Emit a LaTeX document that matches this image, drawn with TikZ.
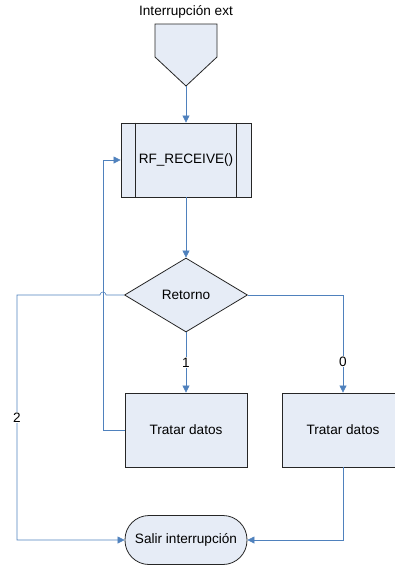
\documentclass[tikz,border=0pt]{standalone}
\usepackage{fontspec}
\setmainfont{Liberation Sans}
\usetikzlibrary{shapes.geometric,arrows.meta,positioning}

\definecolor{linea}{RGB}{79,129,189}
\definecolor{relleno}{RGB}{230,236,246}

\tikzstyle{caja}=[rectangle,draw=black!85,fill=relleno,thick,minimum width=122pt,minimum height=74pt,inner sep=0pt]
\tikzstyle{decision}=[diamond,draw=black!85,fill=relleno,thick,minimum width=123pt,minimum height=74pt,inner sep=0pt]
\tikzstyle{fin}=[rectangle,rounded corners=24pt,draw=black!85,fill=relleno,thick,minimum width=122pt,minimum height=49pt,inner sep=0pt]
\tikzstyle{linea}=[draw=linea,semithick]
\tikzstyle{texto}=[fill=white,inner sep=1pt]

\begin{document}
\begin{tikzpicture}[node distance=135pt,>={Triangle[length=7pt,width=7pt]},font=\fontsize{13.6}{16}\selectfont]
  \useasboundingbox (0,0) rectangle (395pt,-566pt);

  \node [texto] (titulo) at (186pt,-12pt) {Interrupción ext};
  \coordinate (ini) at (186pt,-86pt);
  \draw [draw=black!85,fill=relleno,thick] ([xshift=-31pt,yshift=62pt]ini) -- ([xshift=31pt,yshift=62pt]ini)
    -- ([xshift=31pt,yshift=29pt]ini) -- (ini) -- ([xshift=-31pt,yshift=29pt]ini) -- cycle;

  \node [caja,minimum width=130pt] (rf) at (186pt,-160pt) {RF\_RECEIVE()};
  \draw [draw=black!85,thick] ([xshift=15pt]rf.north west) -- ([xshift=15pt]rf.south west);
  \draw [draw=black!85,thick] ([xshift=-15pt]rf.north east) -- ([xshift=-15pt]rf.south east);

  \node [decision] (ret) [below of=rf] {Retorno};
  \node [caja] (trat1) [below of=ret] {Tratar datos};
  \node [caja] (trat0) [right of=trat1,xshift=22pt] {Tratar datos};
  \node [fin] (salir) [below of=trat1,yshift=25pt] {Salir interrupción};

  \coordinate (vuelta) at (103pt,-160pt);
  \coordinate (izq) at (17pt,-295pt);

  \draw [linea,->] (ini) -- (rf);
  \draw [linea,->] (rf) -- (ret);
  \draw [linea,->] (ret) -- node [texto] {1} (trat1);
  \draw [linea,->] (ret.east) -| node [texto,pos=0.84] {0} (trat0);
  \draw [linea,->] (trat0.south) |- (salir.east);
  \draw [linea,->] (trat1.west) -| (vuelta) -- (rf.west);
  \draw [linea,->] (ret.west) -- ([xshift=3pt]vuelta |- ret.west)
    arc [start angle=0,end angle=180,radius=3pt] -- (izq)
    |- node [texto,pos=0.25] {2} (salir.west);

\end{tikzpicture}
\end{document}
